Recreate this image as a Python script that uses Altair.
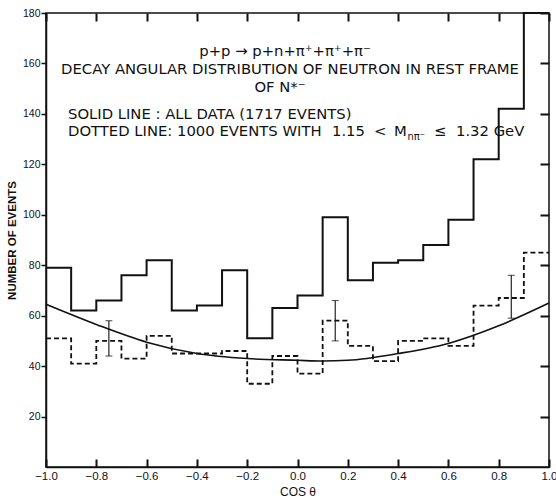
import altair as alt
import pandas as pd

# ---- data ----
bin_edges = [-1.0, -0.9, -0.8, -0.7, -0.6, -0.5, -0.4, -0.3, -0.2, -0.1, 0.0,
             0.1, 0.2, 0.3, 0.4, 0.5, 0.6, 0.7, 0.8, 0.9, 1.0]
solid_counts = [79, 62, 66, 76, 82, 62, 64, 78, 51, 63,
                68, 99, 74, 81, 82, 88, 98, 122, 142, 180]
dotted_counts = [51, 41, 50, 43, 52, 45, 45, 46, 33, 44,
                 37, 58, 48, 42, 50, 51, 48, 64, 67, 85]
curve_x = [-1.0, -0.8, -0.6, -0.4, -0.2, 0.0, 0.1, 0.2, 0.4, 0.6, 0.8, 1.0]
curve_y = [64.5, 56.5, 49.5, 45.0, 43.0, 42.3, 42.0, 42.3, 45.0, 49.0, 56.0, 65.0]
err_x = [-0.75, 0.15, 0.85]
err_lo = [44, 50, 59]
err_hi = [58, 66, 76]
x_tick_values = [-1.0, -0.8, -0.6, -0.4, -0.2, 0.0, 0.2, 0.4, 0.6, 0.8, 1.0]
y_tick_values = [20, 40, 60, 80, 100, 120, 140, 160, 180]

W, H = 503, 454
INK = "#111111"
TFONT = "DejaVu Sans"
TS = 14.8
TL = 8  # inward tick length on the frame

solid_df = pd.DataFrame({"x": bin_edges, "y": solid_counts + [solid_counts[-1]]})
dotted_df = pd.DataFrame({"x": bin_edges, "y": dotted_counts + [dotted_counts[-1]]})
curve_df = pd.DataFrame({"x": curve_x, "y": curve_y})
err_df = pd.DataFrame({"x": err_x, "y": err_lo, "y2": err_hi})
caps_df = pd.DataFrame({"x": err_x + err_x, "y": err_lo + err_hi})

# inward frame ticks are drawn as dashed grid lines: a short dash at each end
x_enc = alt.X(
    "x:Q",
    scale=alt.Scale(domain=[-1.0, 1.0], nice=False, zero=False),
    axis=alt.Axis(
        values=x_tick_values, format=".1f", ticks=False,
        grid=True, gridColor=INK, gridWidth=2, gridOpacity=1,
        gridDash=[TL, H - 2 * TL, TL, 1000],
        labelFont="Liberation Sans", labelFontSize=11.5, labelColor=INK,
        labelPadding=3, labelFlush=False,
        title="COS θ", titleFont="Liberation Sans", titleFontSize=12,
        titleFontWeight="normal", titleColor=INK, titlePadding=5,
        domainColor=INK, domainWidth=1.5,
    ),
)
y_enc = alt.Y(
    "y:Q",
    scale=alt.Scale(domain=[0, 180], nice=False, zero=True),
    axis=alt.Axis(
        values=y_tick_values, ticks=True, tickSize=5, tickColor=INK, tickWidth=1.5,
        grid=True, gridColor=INK, gridWidth=2, gridOpacity=1,
        gridDash=[0, W - 9, 9, 1000],
        labelFont="Liberation Sans", labelFontSize=10.5, labelColor=INK,
        labelPadding=1, labelFlush=False,
        title="NUMBER OF EVENTS", titleFont="Liberation Sans", titleFontSize=11.5,
        titleFontWeight="bold", titleColor=INK, titlePadding=5,
        domainColor=INK, domainWidth=1.5,
    ),
)

solid = alt.Chart(solid_df).mark_line(
    interpolate="step-after", color=INK, strokeWidth=2
).encode(x=x_enc, y=y_enc)

dotted = alt.Chart(dotted_df).mark_line(
    interpolate="step-after", color=INK, strokeWidth=1.8, strokeDash=[5, 3]
).encode(x=x_enc, y=y_enc)

curve = alt.Chart(curve_df).mark_line(
    interpolate="monotone", color=INK, strokeWidth=1.6
).encode(x=x_enc, y=y_enc)

err = alt.Chart(err_df).mark_rule(color=INK, strokeWidth=1.1).encode(
    x=x_enc, y=y_enc, y2="y2:Q"
)
caps = alt.Chart(caps_df).mark_tick(
    orient="horizontal", color=INK, size=7, thickness=1.1
).encode(x=x_enc, y=y_enc)

one = alt.Data(values=[{"k": 1}])


def label(txt, px, py, size=TS, align="center"):
    return alt.Chart(one).mark_text(
        text=txt, font=TFONT, fontSize=size, color=INK, align=align,
        baseline="middle"
    ).encode(x=alt.value(px), y=alt.value(py))


texts = [
    label("p+p → p+n+π⁺+π⁺+π⁻", 239, 39),
    label("DECAY ANGULAR DISTRIBUTION OF NEUTRON IN REST FRAME", 244, 57),
    label("OF N*⁻", 234, 75),
    label("SOLID LINE : ALL DATA (1717 EVENTS)", 22, 102, TS, "left"),
    label("DOTTED LINE: 1000 EVENTS WITH", 22, 119, TS, "left"),
    label("1.15", 286, 119, TS, "left"),
    label("<", 328, 119, TS, "left"),
    label("M", 348, 119, TS, "left"),
    label("nπ⁻", 361.5, 123.5, 10, "left"),
    label("≤", 388, 119, TS, "left"),
    label("1.32 GeV", 410, 119, TS, "left"),
]

chart = alt.layer(
    solid, dotted, curve, err, caps, *texts
).properties(
    width=W, height=H,
    autosize=alt.AutoSizeParams(type="none"),
    padding={"left": 46, "top": 13, "right": 7, "bottom": 35},
    background="white",
).configure_view(stroke=INK, strokeWidth=1.5)

chart.save("out.html", embed_options={"renderer": "svg", "actions": False})
